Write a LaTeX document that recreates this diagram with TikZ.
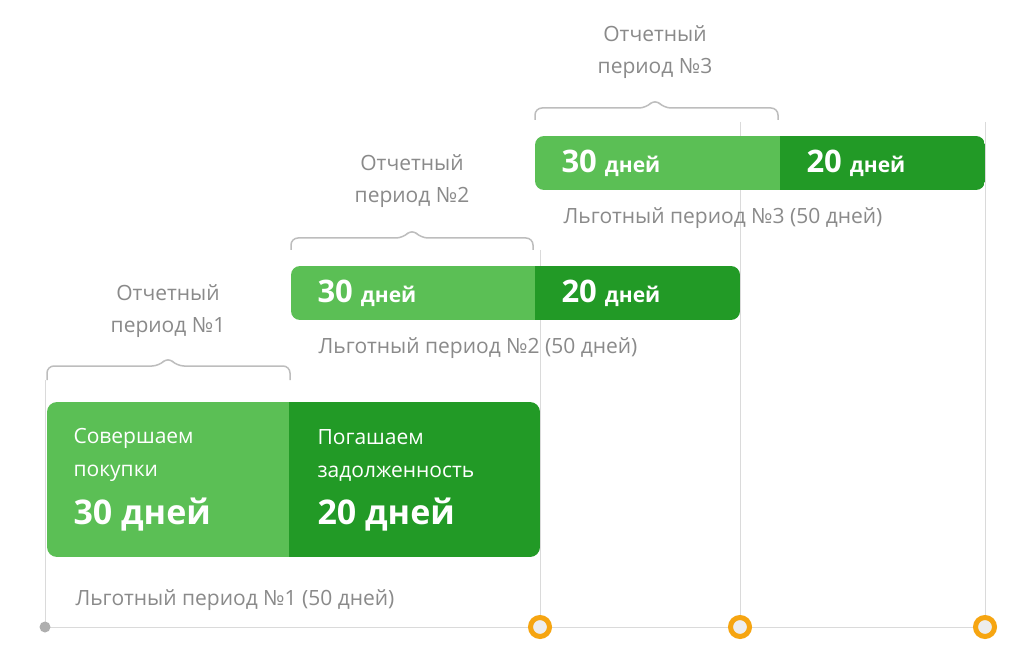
\documentclass[tikz,border=0pt]{standalone}
\usepackage{fontspec}
\setmainfont{Open Sans}
\definecolor{lg}{HTML}{5BBF55}
\definecolor{dg}{HTML}{229A26}
\definecolor{gl}{HTML}{DADADA}
\definecolor{gt}{HTML}{8A8A8A}
\definecolor{br}{HTML}{BDBDBD}
\definecolor{org}{HTML}{F6A511}
\begin{document}
\begin{tikzpicture}[x=1pt,y=-1pt,
  lbl/.style={text=gt,font=\fontsize{21}{32}\selectfont,align=center},
  glbl/.style={text=gt,font=\fontsize{21}{25}\selectfont,anchor=west},
  wt/.style={text=white,anchor=west,font=\bfseries},
  ring/.style={circle,draw=org,line width=5pt,fill=white!93!black,minimum size=19pt,inner sep=0pt},
  vl/.style={gl,line width=1pt},
  brc/.style={br,line width=1.5pt,rounded corners=7pt}]
\fill[white] (0,0) rectangle (1029,655);
% lines
\coordinate (o) at (45,627);
\coordinate (e) at (985,627);
\draw[vl] (o) -- (e);
\draw[vl] (45,380) -- (o);
\draw[vl] (540,250) -- (540,627);
\draw[vl] (740,122) -- (740,627);
\draw[vl] (985,122) -- (985,627);
\fill[gl!80!black] (o) circle (5.5);
\node[ring] (r1) at (540,627) {};
\node[ring] (r2) at (740,627) {};
\node[ring] (r3) at (985,627) {};
% braces
\draw[brc] (47,380) -- (47,366) -- (159,366) -- (168,357) -- (177,366) -- (290,366) -- (290,380);
\draw[brc] (291,250) -- (291,238) -- (403,238) -- (412,229) -- (421,238) -- (533,238) -- (533,250);
\draw[brc] (535,120) -- (535,108) -- (646,108) -- (655,99) -- (664,108) -- (778,108) -- (778,120);
% boxes
\begin{scope}
\clip[rounded corners=10pt] (47,402) rectangle (540,557);
\fill[lg] (47,402) rectangle (289,557);
\fill[dg] (289,402) rectangle (540,557);
\end{scope}
\begin{scope}
\clip[rounded corners=9pt] (291,266) rectangle (740,320);
\fill[lg] (291,266) rectangle (535,320);
\fill[dg] (535,266) rectangle (740,320);
\end{scope}
\begin{scope}
\clip[rounded corners=9pt] (535,136) rectangle (985,190);
\fill[lg] (535,136) rectangle (780,190);
\fill[dg] (780,136) rectangle (985,190);
\end{scope}
% labels
\node[lbl] (p1) at (168,311) {Отчетный\\период №1};
\node[lbl] (p2) at (412,181) {Отчетный\\период №2};
\node[lbl] (p3) at (655,52) {Отчетный\\период №3};
\node[glbl] (g1) at (72,600) {Льготный период №1 (50 дней)};
\node[glbl] (g2) at (315,348) {Льготный период №2 (50 дней)};
\node[glbl] (g3) at (560,218) {Льготный период №3 (50 дней)};
% box texts
\node[text=white,anchor=west,align=left,font=\fontsize{21}{33}\selectfont] (t1) at (70,455) {Совершаем\\покупки};
\node[wt,font=\bfseries\fontsize{34}{40}\selectfont] (n1) at (70,515) {30 дней};
\node[text=white,anchor=west,align=left,font=\fontsize{21}{33}\selectfont] (t2) at (314,455) {Погашаем\\задолженность};
\node[wt,font=\bfseries\fontsize{34}{40}\selectfont] (n2) at (314,515) {20 дней};
\node[wt] (a2) at (314,293) {\fontsize{31}{36}\selectfont 30 \fontsize{21}{24}\selectfont дней};
\node[wt] (b2) at (558,293) {\fontsize{31}{36}\selectfont 20 \fontsize{21}{24}\selectfont дней};
\node[wt] (a3) at (558,163) {\fontsize{31}{36}\selectfont 30 \fontsize{21}{24}\selectfont дней};
\node[wt] (b3) at (803,163) {\fontsize{31}{36}\selectfont 20 \fontsize{21}{24}\selectfont дней};
\end{tikzpicture}
\end{document}
